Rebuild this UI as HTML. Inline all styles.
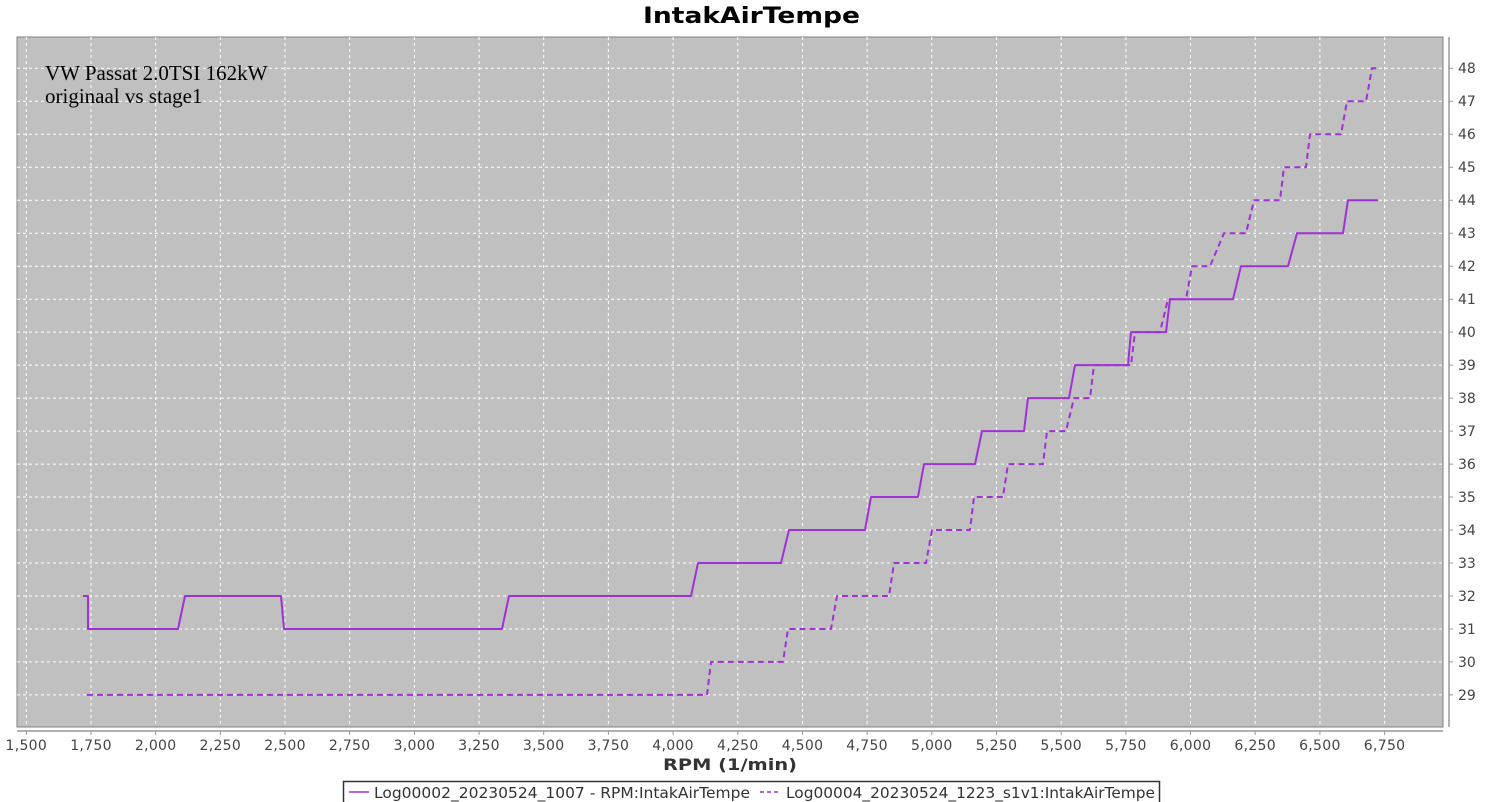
<!DOCTYPE html>
<html><head><meta charset="utf-8"><style>
html,body{margin:0;padding:0;background:#fff;width:1500px;height:802px;overflow:hidden}
</style></head><body>
<svg width="1500" height="802" xmlns="http://www.w3.org/2000/svg" font-family="'DejaVu Sans', 'Liberation Sans', sans-serif">
<text x="643" y="23" textLength="217" lengthAdjust="spacingAndGlyphs" font-size="22" font-weight="bold" fill="#000">IntakAirTempe</text>
<rect x="17" y="37" width="1426" height="690" fill="#c0c0c0" stroke="#808080" stroke-width="1"/>
<g stroke="#ffffff" stroke-width="1" stroke-dasharray="3,3">
<path d="M26.3 37V727M91 37V727M155.7 37V727M220.3 37V727M285 37V727M349.7 37V727M414.4 37V727M479.1 37V727M543.7 37V727M608.4 37V727M673.1 37V727M737.8 37V727M802.5 37V727M867.1 37V727M931.8 37V727M996.5 37V727M1061.2 37V727M1125.9 37V727M1190.5 37V727M1255.2 37V727M1319.9 37V727M1384.6 37V727"/>
<path d="M17 68.3H1443M17 101.3H1443M17 134.3H1443M17 167.2H1443M17 200.2H1443M17 233.2H1443M17 266.2H1443M17 299.2H1443M17 332.1H1443M17 365.1H1443M17 398.1H1443M17 431.1H1443M17 464.1H1443M17 497H1443M17 530H1443M17 563H1443M17 596H1443M17 629H1443M17 661.9H1443M17 694.9H1443"/>
</g>
<line x1="17" y1="731" x2="1443" y2="731" stroke="#999" stroke-width="1.5"/>
<line x1="1449" y1="37" x2="1449" y2="727" stroke="#999" stroke-width="1.5"/>
<g stroke="#999"><path d="M26.3 731v4M91 731v4M155.7 731v4M220.3 731v4M285 731v4M349.7 731v4M414.4 731v4M479.1 731v4M543.7 731v4M608.4 731v4M673.1 731v4M737.8 731v4M802.5 731v4M867.1 731v4M931.8 731v4M996.5 731v4M1061.2 731v4M1125.9 731v4M1190.5 731v4M1255.2 731v4M1319.9 731v4M1384.6 731v4"/>
<path d="M1449 68.3h4M1449 101.3h4M1449 134.3h4M1449 167.2h4M1449 200.2h4M1449 233.2h4M1449 266.2h4M1449 299.2h4M1449 332.1h4M1449 365.1h4M1449 398.1h4M1449 431.1h4M1449 464.1h4M1449 497h4M1449 530h4M1449 563h4M1449 596h4M1449 629h4M1449 661.9h4M1449 694.9h4"/></g>
<g font-size="14" fill="#444" text-anchor="middle" letter-spacing="0.3">
<text x="26.3" y="750">1,500</text><text x="91" y="750">1,750</text><text x="155.7" y="750">2,000</text><text x="220.3" y="750">2,250</text><text x="285" y="750">2,500</text><text x="349.7" y="750">2,750</text><text x="414.4" y="750">3,000</text><text x="479.1" y="750">3,250</text><text x="543.7" y="750">3,500</text><text x="608.4" y="750">3,750</text><text x="673.1" y="750">4,000</text><text x="737.8" y="750">4,250</text><text x="802.5" y="750">4,500</text><text x="867.1" y="750">4,750</text><text x="931.8" y="750">5,000</text><text x="996.5" y="750">5,250</text><text x="1061.2" y="750">5,500</text><text x="1125.9" y="750">5,750</text><text x="1190.5" y="750">6,000</text><text x="1255.2" y="750">6,250</text><text x="1319.9" y="750">6,500</text><text x="1384.6" y="750">6,750</text>
</g>
<g font-size="14" fill="#444">
<text x="1458" y="73">48</text><text x="1458" y="106">47</text><text x="1458" y="139">46</text><text x="1458" y="172">45</text><text x="1458" y="205">44</text><text x="1458" y="238">43</text><text x="1458" y="271">42</text><text x="1458" y="304">41</text><text x="1458" y="337">40</text><text x="1458" y="370">39</text><text x="1458" y="403">38</text><text x="1458" y="436">37</text><text x="1458" y="469">36</text><text x="1458" y="502">35</text><text x="1458" y="535">34</text><text x="1458" y="568">33</text><text x="1458" y="601">32</text><text x="1458" y="634">31</text><text x="1458" y="667">30</text><text x="1458" y="700">29</text>
</g>
<text x="663" y="770" textLength="134" lengthAdjust="spacingAndGlyphs" font-size="16" font-weight="bold" fill="#333">RPM (1/min)</text>
<text x="45" y="80" font-family="'Liberation Serif', serif" font-size="21" fill="#000">VW Passat 2.0TSI 162kW</text>
<text x="45" y="103" font-family="'Liberation Serif', serif" font-size="21" fill="#000">originaal vs stage1</text>
<g fill="none" stroke="#a030d8" stroke-width="2" stroke-linejoin="round">
<path d="M83 596H88V629H178L185 596H281L284 629H502L509 596H691L698 563H781L789 530H865L871 497H918L924 464.1H975L982 431.1H1024L1028 398.1H1069L1075 365.1H1128L1131 332.1H1166L1170 299.2H1233L1241 266.2H1288L1297 233.2H1343L1348 200.2H1378"/>
<path stroke-dasharray="6,4" d="M87 694.9H707L711 661.9H783L788 629H831L837 596H889L894 563H926L932 530H970L974 497H1003L1008 464.1H1043L1047 431.1H1066L1074 398.1H1090L1094 365.1H1131L1135 332.1H1160L1168 299.2H1186L1192 266.2H1210L1224 233.2H1246L1254 200.2H1280L1284 167.2H1306L1310 134.3H1341L1347 101.3H1366L1372 68.3H1378"/>
</g>
<rect x="343.5" y="781.5" width="816" height="22" fill="#fff" stroke="#333" stroke-width="1.5"/>
<line x1="349" y1="792" x2="369" y2="792" stroke="#a030d8" stroke-width="1.5"/>
<text x="374" y="798" textLength="376" lengthAdjust="spacingAndGlyphs" font-size="15" fill="#333">Log00002_20230524_1007 - RPM:IntakAirTempe</text>
<line x1="760" y1="792" x2="780" y2="792" stroke="#a030d8" stroke-width="1.5" stroke-dasharray="4,3"/>
<text x="786" y="798" textLength="369" lengthAdjust="spacingAndGlyphs" font-size="15" fill="#333">Log00004_20230524_1223_s1v1:IntakAirTempe</text>
</svg>
</body></html>
